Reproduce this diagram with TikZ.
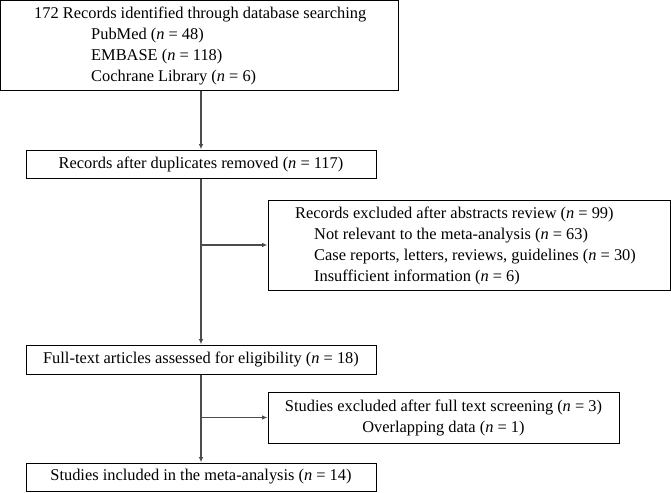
\documentclass[tikz,border=0pt]{standalone}
\usepackage{fontspec}
\setmainfont{Liberation Serif}
\usetikzlibrary{arrows.meta}
\begin{document}
\begin{tikzpicture}[x=1pt,y=1pt,
  box/.style={draw=black, line width=1pt, inner sep=0pt, align=center,
    font=\fontsize{16.4}{21}\selectfont},
  txt/.style={inner sep=0pt, align=left, font=\fontsize{16.4}{21}\selectfont},
  conn/.style={draw=black!70, line width=1.1pt, -{Latex[length=5.5pt,width=4.5pt]}}]
\useasboundingbox (0,0) rectangle (671,-492);
% boxes
\node[box, minimum width=398pt, minimum height=90pt] (b1) at (199.5,-45.5) {};
\node[txt, anchor=west] (b1t) at (34,-45.5) {172 Records identified through database searching\\
\hspace*{57pt}PubMed (\textit{n} = 48)\\
\hspace*{57pt}EMBASE (\textit{n} = 118)\\
\hspace*{57pt}Cochrane Library (\textit{n} = 6)};
\node[box, minimum width=350pt, minimum height=28pt] (b2) at (201,-164) {Records after duplicates removed (\textit{n} = 117)};
\node[box, minimum width=402pt, minimum height=90pt] (b3) at (469,-245) {};
\node[txt, anchor=west] (b3t) at (295,-245.5) {Records excluded after abstracts review (\textit{n} = 99)\\
\hspace*{19pt}Not relevant to the meta-analysis (\textit{n} = 63)\\
\hspace*{19pt}Case reports, letters, reviews, guidelines (\textit{n} = 30)\\
\hspace*{19pt}Insufficient information (\textit{n} = 6)};
\node[box, minimum width=350pt, minimum height=29pt] (b4) at (201,-359.5) {Full-text articles assessed for eligibility (\textit{n} = 18)};
\node[box, minimum width=351pt, minimum height=51pt] (b5) at (443.5,-417.5) {Studies excluded after full text screening (\textit{n} = 3)\\ Overlapping data (\textit{n} = 1)};
\node[box, minimum width=350pt, minimum height=28pt] (b6) at (201,-477) {Studies included in the meta-analysis (\textit{n} = 14)};
% connectors
\draw[conn] (b1.south -| b2.north) -- (b2.north);
\draw[conn] (b2.south) -- (b4.north);
\coordinate (j1) at (b2.south |- b3.west);
\draw[conn] (j1) -- (b3.west);
\draw[conn] (b4.south) -- (b6.north);
\coordinate (j2) at (b4.south |- b5.west);
\draw[conn] (j2) -- (b5.west);
\end{tikzpicture}
\end{document}
